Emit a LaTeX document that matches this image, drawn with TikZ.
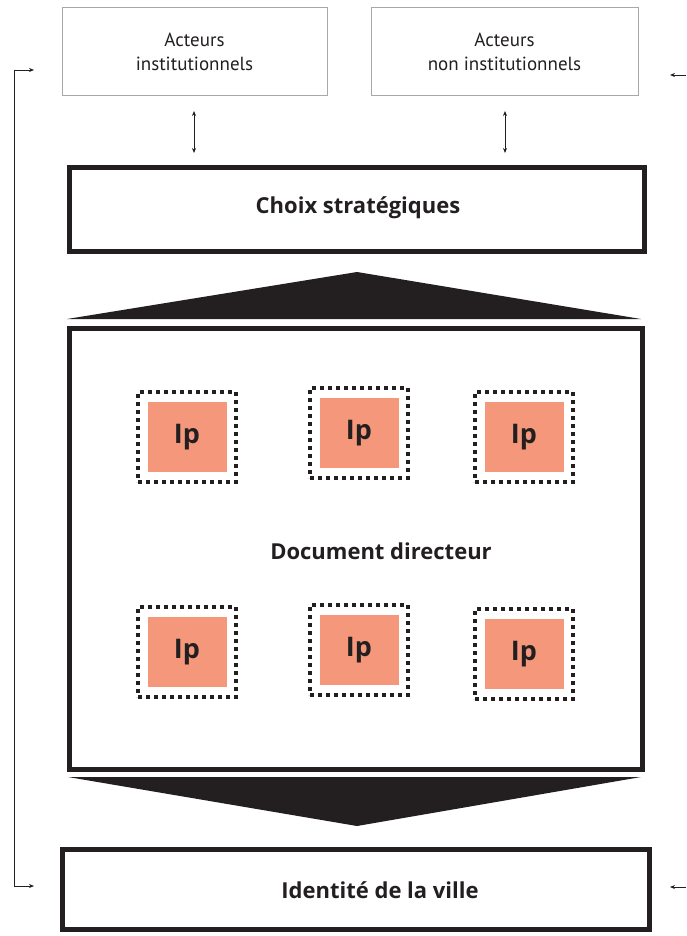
\documentclass[tikz,border=0pt]{standalone}
\usepackage{fontspec}
\setmainfont{PT Sans}
\newfontfamily\boldface{Open Sans}[UprightFont=* Bold]
\usetikzlibrary{arrows.meta}
\definecolor{ink}{HTML}{231F20}
\definecolor{salmon}{HTML}{F4977A}
\definecolor{thin}{HTML}{A8A8A8}
\tikzset{
  actor/.style={draw=thin, line width=1pt, rectangle, align=center, font=\fontsize{19}{24}\selectfont, text=ink, inner sep=0pt},
  bigbox/.style={draw=ink, line width=5pt, rectangle, inner sep=0pt},
  boldlabel/.style={font=\boldface\fontsize{22}{24}\selectfont, text=ink, inner sep=0pt},
  ipouter/.style={draw=ink, line width=4pt, dash pattern=on 4pt off 4pt, rectangle, inner sep=0pt, minimum width=98pt, minimum height=90pt},
  ipinner/.style={fill=salmon, rectangle, inner sep=0pt, minimum width=79pt, minimum height=70pt, font=\boldface\fontsize{27}{28}\selectfont, text=ink},
  link/.style={draw=ink, line width=0.8pt, -{Stealth[length=5pt,width=4pt]}},
  dlink/.style={draw=ink, line width=0.8pt, {Stealth[length=5pt,width=4pt]}-{Stealth[length=5pt,width=4pt]}},
  wedge/.style={fill=ink, draw=none}
}
\begin{document}
\begin{tikzpicture}[x=1pt,y=-1pt]
\useasboundingbox (0,0) rectangle (686,936);
% actor boxes
\node[actor, minimum width=265pt, minimum height=88pt] (inst) at (194.5,52) {Acteurs\\institutionnels};
\node[actor, minimum width=267pt, minimum height=88pt] (noninst) at (504.5,52) {Acteurs\\non institutionnels};
% choix
\node[bigbox, minimum width=575pt, minimum height=84pt] (choix) at (357,209.5) {};
\node[boldlabel] (choixlabel) at (358,208) {Choix stratégiques};
% document directeur
\node[bigbox, minimum width=573pt, minimum height=441pt] (doc) at (356,549) {};
\node[boldlabel] (doclabel) at (381,551) {Document directeur};
% identite
\node[bigbox, minimum width=587pt, minimum height=80pt] (ident) at (356,889.5) {};
\node[boldlabel] (identlabel) at (380,890) {Identité de la ville};
% wedges
\fill[wedge] (67,319) -- (357,272) -- (641,319) -- cycle;
\fill[wedge] (68,777) -- (641,777) -- (357,826) -- cycle;
% Ip boxes
\foreach \n/\x/\y in {a/187/437, b/359/433, c/524/437, d/187/652, e/359/650, f/524/654}{
  \node[ipouter] (out\n) at (\x,\y) {};
  \node[ipinner] (ip\n) at (\x,\y) {Ip};
}
% double arrows
\coordinate (d1t) at (194,111);
\coordinate (d1b) at (194,153);
\coordinate (d2t) at (505,111);
\coordinate (d2b) at (505,153);
\draw[dlink] (d1t) -- (d1b);
\draw[dlink] (d2t) -- (d2b);
% left feedback loop
\coordinate (lt) at (14,70);
\coordinate (lb) at (14,886);
\coordinate (lta) at (34,70);
\coordinate (lba) at (34,886);
\draw[draw=ink, line width=0.8pt] (lt) -- (lb);
\draw[link] (lt) -- (lta);
\draw[link] (lb) -- (lba);
% right arrows
\coordinate (rt) at (686,75);
\coordinate (rta) at (670,75);
\coordinate (rb) at (686,887);
\coordinate (rba) at (670,887);
\draw[link] (rt) -- (rta);
\draw[link] (rb) -- (rba);
\end{tikzpicture}
\end{document}
